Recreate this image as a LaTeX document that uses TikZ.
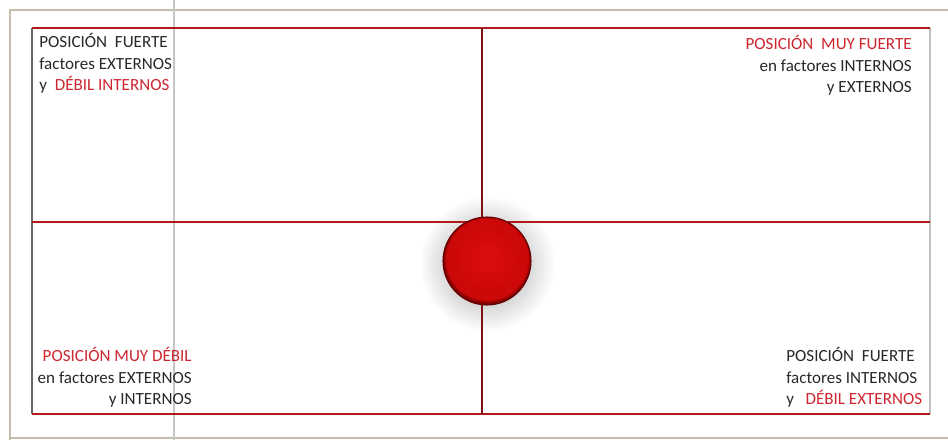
\documentclass[tikz,border=0pt]{standalone}
\usepackage{fontspec}
\setmainfont{Carlito}
\usepackage{tikz}
\usetikzlibrary{positioning}
\definecolor{frameline}{RGB}{196,190,170}
\definecolor{lineRed}{RGB}{178,24,30}
\definecolor{txtRed}{RGB}{206,38,48}
\definecolor{txtGray}{RGB}{40,40,40}
\definecolor{ballA}{RGB}{222,14,14}
\definecolor{ballB}{RGB}{205,8,8}
\definecolor{ballC}{RGB}{120,0,0}
\pgfdeclareradialshading{redball}{\pgfpoint{0bp}{2bp}}{%
  color(0bp)=(ballA); color(18bp)=(ballB); color(23bp)=(ballB);
  color(25bp)=(ballC); color(50bp)=(ballC)}

\begin{document}
\begin{tikzpicture}[x=0.02cm,y=-0.02cm,
    quadtext/.style={inner sep=0pt,text=txtGray,
      font=\fontsize{9.7}{12.2}\selectfont},
    redline/.style={lineRed,line width=0.9pt}]
  \useasboundingbox[fill=white] (0,0) rectangle (948,440);
  % outer frame and the guide line on the left
  \draw[frameline,line width=1.6pt] (10,440) -- (10,10) -- (948,10);
  \draw[frameline,line width=1.6pt] (10,438) -- (948,438);
  \draw[gray!45,line width=0.8pt] (174,0) -- (174,440);
  % shadow round the ball
  \shade[inner color=black!40,outer color=white] (487,264) circle (68);
  % the quadrant box
  \coordinate (nw) at (32,28);
  \coordinate (ne) at (930,28);
  \coordinate (sw) at (32,414);
  \coordinate (se) at (930,414);
  \draw[gray!80!black,line width=0.6pt] (nw) -- (sw);
  \draw[gray!50,line width=0.6pt] (ne) -- (se);
  \draw[redline] (nw) -- (ne);
  \draw[redline] (sw) -- (se);
  \draw[redline] (32,222) -- (930,222);
  \draw[lineRed!70!black,line width=0.9pt] (482,28) -- (482,414);
  % the ball
  \node[circle,minimum size=88*0.02cm,inner sep=0pt,shading=redball,
        draw=ballC!80!black,line width=0.6pt] (ball) at (487,261) {};
  % quadrant labels
  \node[quadtext,anchor=north west,align=left] (tl) at (39,33)
    {POSICIÓN\ \ FUERTE\\factores EXTERNOS\\y\ \ \textcolor{txtRed}{DÉBIL INTERNOS}};
  \node[quadtext,anchor=north east,align=right] (tr) at (912,35)
    {\textcolor{txtRed}{POSICIÓN\ \ MUY FUERTE}\\en factores INTERNOS\\y EXTERNOS};
  \node[quadtext,anchor=north east,align=right] (bl) at (192,347)
    {\textcolor{txtRed}{POSICIÓN MUY DÉBIL}\\en factores EXTERNOS\\y INTERNOS};
  \node[quadtext,anchor=north west,align=left] (br) at (786,347)
    {POSICIÓN\ \ FUERTE\\factores INTERNOS\\y\ \ \ \textcolor{txtRed}{DÉBIL EXTERNOS}};
\end{tikzpicture}
\end{document}
